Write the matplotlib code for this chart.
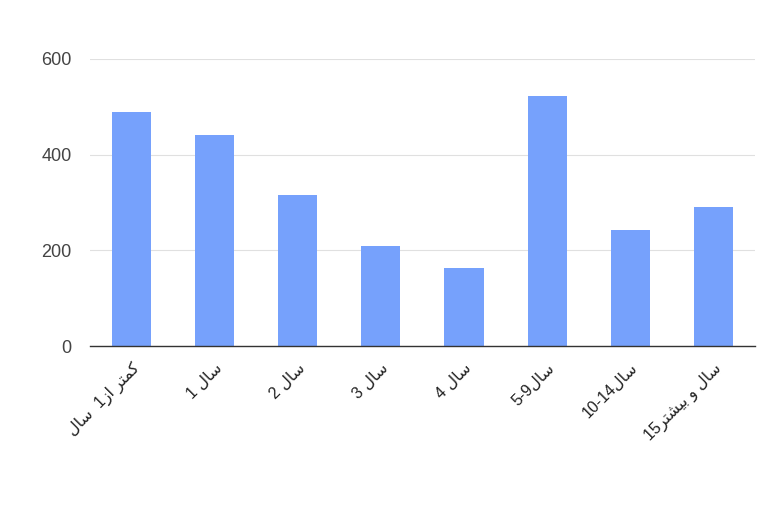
import numpy as np
import matplotlib.pyplot as plt

# Persian words in presentation forms, visual (left-to-right) order
SAL = "\uFEDD\uFE8E\uFEB3"            # سال
AZ = "\uFEAF\uFE8D"                    # از
KAMTAR = "\uFEAE\uFE98\uFEE4\uFB90"    # کمتر
VA = "\uFEED"                          # و
BISHTAR = "\uFEAE\uFE98\uFEB8\uFBFF\uFE91"  # بیشتر

categories = [
    SAL + "  1" + AZ + " " + KAMTAR,
    "1 " + SAL,
    "2 " + SAL,
    "3 " + SAL,
    "4 " + SAL,
    "5-9" + SAL,
    "10-14" + SAL,
    "15" + BISHTAR + " " + VA + " " + SAL,
]
values = [490, 441, 316, 209, 163, 523, 243, 291]
yticks = [0, 200, 400, 600]

plt.rcParams['font.family'] = ['Liberation Sans', 'DejaVu Sans']

fig = plt.figure(figsize=(7.68, 5.12), dpi=100)
ax = fig.add_axes([0.117, 0.324, 0.866, 0.561])

x = np.arange(len(values))
ax.bar(x, values, width=0.47, color='#76a1fc', zorder=3)

ax.set_xlim(-0.5, len(values) - 0.5)
ax.set_ylim(0, 600)
ax.set_yticks(yticks)
ax.set_yticklabels([str(t) for t in yticks], fontsize=13, color='#444444')
ax.grid(axis='y', color='#e0e0e0', linewidth=0.8, zorder=0)

ax.set_xticks(x)
ax.set_xticklabels(categories, rotation=45, ha='right', va='top',
                   rotation_mode='anchor', fontsize=11.5, color='#222222')
ax.tick_params(axis='x', length=0, pad=10)
ax.tick_params(axis='y', length=0, pad=13)

for s in ['top', 'right', 'left']:
    ax.spines[s].set_visible(False)
ax.spines['bottom'].set_color('#333333')
ax.spines['bottom'].set_linewidth(1.0)
ax.spines['bottom'].set_zorder(4)

fig.savefig('out.png', dpi=100)
